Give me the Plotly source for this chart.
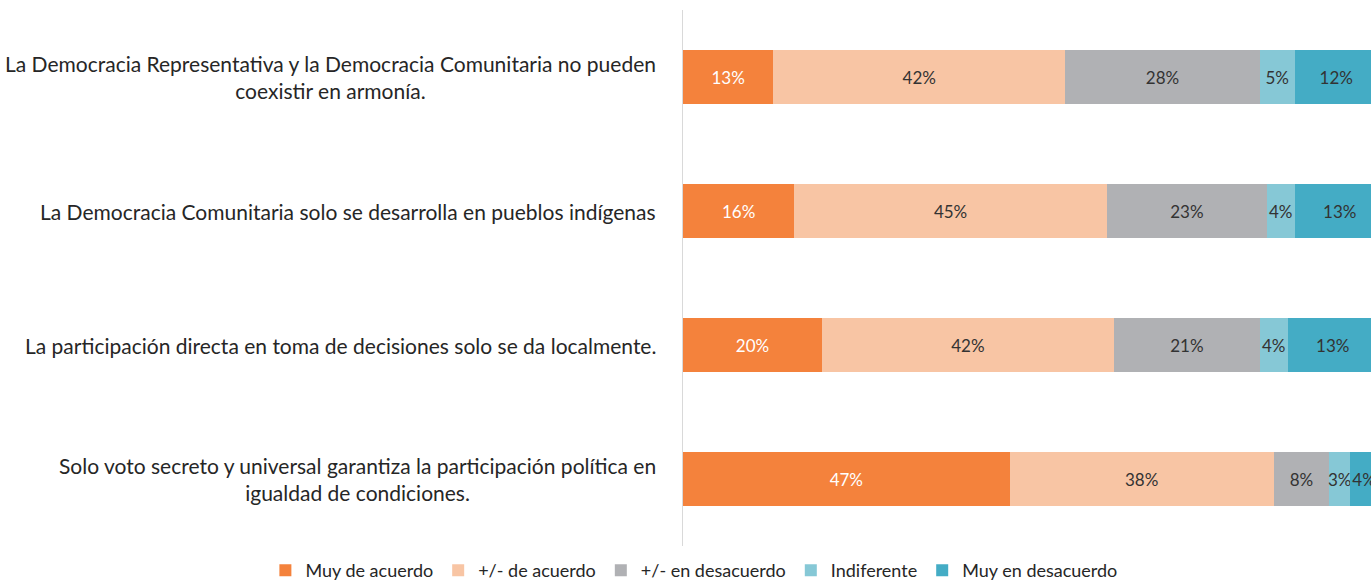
import plotly.graph_objects as go

categories = [
    "La Democracia Representativa y la Democracia Comunitaria no pueden<br>coexistir en armonía.",
    "La Democracia Comunitaria solo se desarrolla en pueblos indígenas",
    "La participación directa en toma de decisiones solo se da localmente.",
    "Solo voto secreto y universal garantiza la participación política en<br>igualdad de condiciones.",
]
series_names = ["Muy de acuerdo", "+/- de acuerdo", "+/- en desacuerdo", "Indiferente", "Muy en desacuerdo"]
muy_de_acuerdo = [13, 16, 20, 47]
mas_menos_acuerdo = [42, 45, 42, 38]
mas_menos_desacuerdo = [28, 23, 21, 8]
indiferente = [5, 4, 4, 3]
muy_en_desacuerdo = [12, 13, 13, 4]

series_values = [muy_de_acuerdo, mas_menos_acuerdo, mas_menos_desacuerdo, indiferente, muy_en_desacuerdo]
colors = ["#F4823C", "#F8C5A4", "#B0B1B4", "#86C8D6", "#44ACC5"]
text_colors = ["#FFFFFF", "#333333", "#333333", "#333333", "#333333"]

FONT = "Lato"

fig = go.Figure()
for name, vals, col, tcol in zip(series_names, series_values, colors, text_colors):
    fig.add_trace(go.Bar(
        name=name, y=categories, x=vals, orientation="h",
        marker=dict(color=col, line=dict(width=0)),
        texttemplate="%{x}%", textposition="inside", insidetextanchor="middle",
        textangle=0,
        textfont=dict(color=tcol, size=17, family=FONT),
        hoverinfo="skip", cliponaxis=True,
    ))

for cat in categories:
    fig.add_annotation(
        xref="paper", yref="y", x=0, y=cat, xshift=-25,
        xanchor="right", yanchor="middle",
        text=cat, showarrow=False, align="center",
        font=dict(size=21, color="#262626", family=FONT),
    )

fig.update_layout(
    width=1371, height=583,
    barmode="stack", bargap=0.597,
    paper_bgcolor="white", plot_bgcolor="white",
    margin=dict(l=683, r=0, t=10, b=37, autoexpand=False),
    uniformtext=dict(minsize=17, mode="show"),
    font=dict(family=FONT, color="#262626"),
    xaxis=dict(range=[0, 99], showgrid=False, zeroline=False, showticklabels=False, fixedrange=True),
    yaxis=dict(categoryorder="array", categoryarray=categories, autorange="reversed",
               showticklabels=False, showline=True, linecolor="#D9D9D9", linewidth=1,
               showgrid=False, zeroline=False, ticks=""),
    legend=dict(orientation="h", xref="paper", yref="paper",
                x=-0.607, xanchor="left", y=-0.046, yanchor="middle",
                font=dict(size=18, color="#262626", family=FONT), traceorder="normal"),
    showlegend=True,
)

fig.write_html("out.html", config={"displayModeBar": False},
               post_script="document.body.style.margin='0';")
